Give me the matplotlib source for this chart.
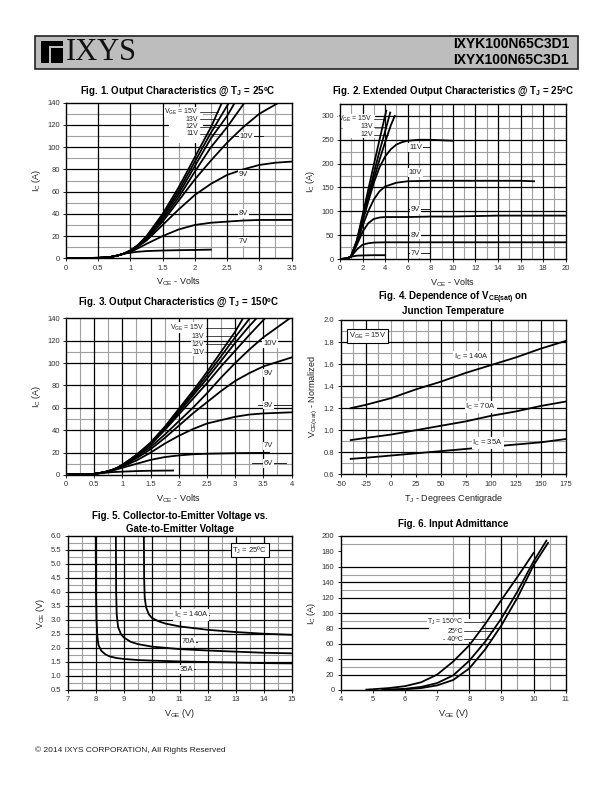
import numpy as np
import matplotlib
matplotlib.use('Agg')
import matplotlib.pyplot as plt
from matplotlib.patches import Rectangle
from matplotlib.ticker import FuncFormatter

plt.rcParams['font.family'] = ['Liberation Sans', 'DejaVu Sans']
plt.rcParams['mathtext.default'] = 'regular'

# ---------------- data ----------------
# Fig. 1  output characteristics @ Tj = 25C
f1_knee_v = [0.0, 0.3, 0.5, 0.6, 0.7, 0.8, 0.9]
f1_knee_i = [0.3, 0.3, 0.4, 0.7, 1.3, 2.5, 4.2]
f1_vge = ['15V', '13V', '12V', '11V', '10V', '9V', '8V', '7V']
f1_vce = [
    [1.0, 1.1, 1.25, 1.5, 1.75, 2.0, 2.25, 2.42],
    [1.0, 1.1, 1.25, 1.5, 1.75, 2.0, 2.25, 2.53],
    [1.0, 1.1, 1.25, 1.5, 1.75, 2.0, 2.25, 2.5, 2.62],
    [1.0, 1.1, 1.25, 1.5, 1.75, 2.0, 2.25, 2.5, 2.77],
    [1.0, 1.1, 1.25, 1.5, 1.75, 2.0, 2.25, 2.5, 2.75, 3.0, 3.3],
    [1.0, 1.1, 1.25, 1.5, 1.75, 2.0, 2.25, 2.5, 2.75, 3.0, 3.25, 3.5],
    [1.0, 1.1, 1.25, 1.5, 1.75, 2.0, 2.25, 2.5, 2.75, 3.0, 3.5],
    [1.0, 1.1, 1.25, 1.5, 1.75, 2.0, 2.25],
]
f1_ic = [
    [7, 11, 20, 40, 64, 91, 118, 140],
    [7, 11, 19, 38, 61, 87, 113, 140],
    [7, 11, 19, 37, 58, 83, 108, 128, 140],
    [7, 11, 18, 35, 55, 78, 100, 118, 140],
    [6.5, 10, 17, 33, 52, 71, 88, 104, 118, 130, 140],
    [6, 10, 16, 30, 44, 57, 67, 75, 80, 84, 86, 87],
    [5.5, 8.5, 13, 20, 26, 30, 32, 33, 34, 34.5, 34.5],
    [5, 5.8, 6.5, 7, 7.3, 7.5, 7.8],
]

# Fig. 2  extended output characteristics @ Tj = 25C
f2_knee_v = [0.0, 0.4, 0.7, 0.9]
f2_knee_i = [0.0, 0.5, 2.0, 4.0]
f2_vge = ['15V', '13V', '12V', '11V', '10V', '9V', '8V', '7V']
f2_vce = [
    [1.0, 1.5, 2.0, 2.5, 3.0, 3.5, 4.1],
    [1.0, 1.5, 2.0, 2.5, 3.0, 3.5, 4.0, 4.45],
    [1.0, 1.5, 2.0, 2.5, 3.0, 3.5, 4.0, 4.5, 4.85],
    [1.0, 1.5, 2.0, 2.5, 3.0, 3.5, 4.0, 4.5, 5.0, 5.5, 6.0, 7.0, 8.0, 9.0, 10.0],
    [1.0, 1.5, 2.0, 2.5, 3.0, 3.5, 4.0, 5.0, 6.0, 8.0, 10.0, 12.0, 14.0, 16.0, 17.2],
    [1.0, 1.5, 2.0, 2.5, 3.0, 3.5, 4.0, 5.0, 6.0, 8.0, 10.0, 12.0, 14.0, 16.0, 18.0, 20.0],
    [1.0, 1.5, 2.0, 2.5, 3.0, 4.0, 6.0, 10.0, 15.0, 20.0],
    [1.0, 1.5, 2.0, 3.0, 4.0],
]
f2_ic = [
    [7, 40, 92, 145, 198, 250, 311],
    [7, 38, 87, 133, 180, 226, 268, 307],
    [7, 37, 83, 127, 168, 208, 245, 280, 300],
    [7, 35, 78, 120, 160, 192, 215, 230, 240, 245, 248, 250, 250, 249, 248],
    [6.5, 33, 70, 100, 125, 142, 152, 160, 163, 164, 164, 164, 164, 164, 163],
    [6, 30, 57, 75, 84, 87, 88, 88, 88, 89, 89, 90, 91, 91, 91, 91],
    [5.5, 20, 30, 33, 34.5, 35, 35, 35, 35, 35],
    [5, 7, 7.5, 8, 8],
]

# Fig. 3  output characteristics @ Tj = 150C
f3_knee_v = [0.0, 0.25, 0.5]
f3_knee_i = [0.5, 0.7, 1.0]
f3_vge = ['15V', '13V', '12V', '11V', '10V', '9V', '8V', '7V', '6V']
f3_vce = [
    [0.6, 0.7, 0.8, 0.9, 1.0, 1.25, 1.5, 1.75, 2.0, 2.25, 2.5, 2.75, 3.0, 3.14],
    [0.6, 0.7, 0.8, 0.9, 1.0, 1.25, 1.5, 1.75, 2.0, 2.25, 2.5, 2.75, 3.0, 3.26],
    [0.6, 0.7, 0.8, 0.9, 1.0, 1.25, 1.5, 1.75, 2.0, 2.25, 2.5, 2.75, 3.0, 3.25, 3.38],
    [0.6, 0.7, 0.8, 0.9, 1.0, 1.25, 1.5, 1.75, 2.0, 2.25, 2.5, 2.75, 3.0, 3.25, 3.53],
    [0.6, 0.7, 0.8, 0.9, 1.0, 1.25, 1.5, 1.75, 2.0, 2.25, 2.5, 2.75, 3.0, 3.25, 3.5, 3.75, 3.97],
    [0.6, 0.7, 0.8, 0.9, 1.0, 1.25, 1.5, 1.75, 2.0, 2.25, 2.5, 2.75, 3.0, 3.25, 3.5, 3.75, 4.0],
    [0.6, 0.7, 0.8, 0.9, 1.0, 1.25, 1.5, 1.75, 2.0, 2.25, 2.5, 2.75, 3.0, 3.25, 3.5, 4.0],
    [0.6, 0.7, 0.8, 0.9, 1.0, 1.25, 1.5, 1.75, 2.0, 2.25, 2.5, 3.0, 3.6],
    [0.6, 0.8, 1.0, 1.25, 1.5, 1.9],
]
f3_ic = [
    [1.8, 2.8, 4.2, 6.2, 9, 18, 29, 43, 59, 75, 92, 110, 128, 140],
    [1.8, 2.8, 4.2, 6.2, 9, 18, 28, 42, 57, 73, 89, 106, 123, 140],
    [1.8, 2.8, 4.2, 6.1, 9, 17, 28, 41, 56, 71, 86, 102, 118, 133, 140],
    [1.8, 2.8, 4.1, 6.0, 8.5, 17, 27, 40, 54, 68, 82, 97, 111, 125, 140],
    [1.8, 2.8, 4.0, 5.8, 8, 16, 25, 36, 48, 60, 73, 87, 100, 112, 123, 132, 140],
    [1.8, 2.8, 4.0, 5.8, 8, 15, 23, 33, 44, 55, 65, 75, 84, 91, 97, 101, 105],
    [1.7, 2.7, 3.9, 5.5, 7.5, 13, 20, 28, 35, 41, 46, 49, 52, 54, 55, 56],
    [1.6, 2.5, 3.6, 5.0, 6.5, 10, 13.5, 16, 17.5, 18.5, 19, 19.5, 19.8],
    [1.5, 2.5, 3.0, 3.5, 3.8, 4.0],
]

# Fig. 4  VCE(sat) normalized vs junction temperature
f4_tj = [-40, -25, 0, 25, 50, 75, 100, 125, 150, 175]
f4_ic140 = [1.20, 1.23, 1.29, 1.37, 1.44, 1.52, 1.59, 1.66, 1.74, 1.81]
f4_ic70 = [0.91, 0.93, 0.96, 1.00, 1.04, 1.08, 1.13, 1.17, 1.22, 1.26]
f4_ic35 = [0.74, 0.75, 0.77, 0.79, 0.81, 0.83, 0.85, 0.87, 0.89, 0.92]

# Fig. 5  VCE vs VGE @ Tj = 25C
f5_vge140 = [9.72, 9.73, 9.75, 9.8, 9.9, 10.0, 10.25, 10.5, 11.0, 12.0, 13.0, 14.0, 15.0]
f5_vce140 = [6.0, 4.5, 3.8, 3.45, 3.2, 3.08, 2.95, 2.87, 2.77, 2.65, 2.57, 2.51, 2.47]
f5_vge70 = [8.72, 8.73, 8.75, 8.8, 8.9, 9.0, 9.25, 9.5, 10.0, 11.0, 12.0, 13.0, 14.0, 15.0]
f5_vce70 = [6.0, 4.0, 3.2, 2.75, 2.5, 2.38, 2.22, 2.14, 2.05, 1.96, 1.91, 1.87, 1.83, 1.81]
f5_vge35 = [8.0, 8.01, 8.03, 8.06, 8.1, 8.2, 8.35, 8.5, 8.75, 9.0, 9.5, 10.0, 11.0, 12.0, 13.0, 14.0, 15.0]
f5_vce35 = [6.0, 4.0, 3.0, 2.4, 2.1, 1.9, 1.77, 1.7, 1.64, 1.61, 1.57, 1.55, 1.52, 1.5, 1.48, 1.46, 1.45]

# Fig. 6  input admittance
f6_vge150 = [4.8, 5.0, 5.5, 6.0, 6.5, 7.0, 7.5, 8.0, 8.5, 9.0, 9.5, 10.0]
f6_ic150 = [0.5, 1, 2.5, 5, 10, 20, 37, 58, 86, 117, 147, 178]
f6_vge25 = [5.3, 5.5, 6.0, 6.5, 7.0, 7.5, 8.0, 8.5, 9.0, 9.5, 10.0, 10.4]
f6_ic25 = [0.3, 0.5, 1.5, 4, 9, 19, 38, 63, 93, 128, 167, 194]
f6_vgem40 = [5.5, 6.0, 6.5, 7.0, 7.5, 8.0, 8.5, 9.0, 9.5, 10.0, 10.45]
f6_icm40 = [0.3, 1, 2.5, 6, 13, 28, 53, 84, 120, 162, 191]

# ---------------- drawing ----------------
W, H = 612, 792
fig = plt.figure(figsize=(W / 100, H / 100), dpi=100)


def box(x0, y0, x1, y1):
    # pixel box (top-left origin) -> axes rect
    return [x0 / W, 1 - y1 / H, (x1 - x0) / W, (y1 - y0) / H]


def ftext(x, y, s, **kw):
    fig.text(x / W, 1 - y / H, s, **kw)


def grid(ax, xb, xg, yb, yg):
    for v in xg:
        ax.axvline(v, color='#a0a0a0', lw=0.8, zorder=1.1)
    for v in yg:
        ax.axhline(v, color='#a0a0a0', lw=0.8, zorder=1.1)
    for v in xb:
        ax.axvline(v, color='black', lw=0.9, zorder=1.2)
    for v in yb:
        ax.axhline(v, color='black', lw=0.9, zorder=1.2)


def style(ax, xlim, ylim, xt, yt, xlabel, ylabel, fmt=None):
    ax.set_xlim(*xlim)
    ax.set_ylim(*ylim)
    ax.set_xticks(xt)
    ax.set_yticks(yt)
    ax.xaxis.set_major_formatter(FuncFormatter(lambda v, p: '%g' % v))
    if fmt:
        ax.yaxis.set_major_formatter(FuncFormatter(lambda v, p: fmt % v))
    else:
        ax.yaxis.set_major_formatter(FuncFormatter(lambda v, p: '%g' % v))
    ax.tick_params(labelsize=5.5, length=2.5, width=0.6, pad=2, labelcolor='#333333')
    ax.set_xlabel(xlabel, fontsize=6.5, color='#222222', labelpad=3)
    ax.set_ylabel(ylabel, fontsize=6.5, color='#222222', labelpad=3)
    for s in ax.spines.values():
        s.set_linewidth(1.0)
        s.set_zorder(5)


def tag(ax, x, y, s, ha='center', dash=None, edge='none', size=5.5, pad=0.6):
    ax.text(x, y, s, ha=ha, va='center', fontsize=size, color='#222222', zorder=4,
            bbox=dict(fc='white', ec=edge, lw=0.8, pad=1.2 if edge != 'none' else pad))
    if dash:
        ax.plot(dash, [y, y], color='black', lw=0.6, zorder=3.5)


def leaders(ax, xr, ys, texts, vces, ics, gap):
    for s, y, v, i in zip(texts, ys, vces, ics):
        tag(ax, xr, y, s, ha='right', size=5.0, pad=0.1)
        xc = np.interp(y, i, v)
        ax.plot([xr + gap, xc], [y, y], color='black', lw=0.5, zorder=3.5)


LW = 1.3

# header
fig.add_artist(Rectangle((35 / W, 1 - 69 / H), 543 / W, 33 / H, transform=fig.transFigure,
                         fc='#bdbdbd', ec='#222222', lw=1.2))
fig.add_artist(Rectangle((41 / W, 1 - 63 / H), 22 / W, 22 / H, transform=fig.transFigure,
                         fc='black', ec='none'))
fig.add_artist(Rectangle((48.5 / W, 1 - 63 / H), 2 / W, 17 / H, transform=fig.transFigure,
                         fc='#bdbdbd', ec='none'))
fig.add_artist(Rectangle((48.5 / W, 1 - 48 / H), 14.5 / W, 2 / H, transform=fig.transFigure,
                         fc='#bdbdbd', ec='none'))
ftext(66, 52, 'IXYS', fontsize=22, family=['Liberation Serif', 'DejaVu Serif'],
      ha='left', va='center', color='#111111')
ftext(569, 44, 'IXYK100N65C3D1', fontsize=10, fontweight='bold', ha='right', va='center')
ftext(569, 60, 'IXYX100N65C3D1', fontsize=10, fontweight='bold', ha='right', va='center')

tfont = dict(fontsize=7, fontweight='bold', ha='center', va='center',
             family=['Liberation Sans Narrow', 'Liberation Sans'])

# ---- Fig. 1
ax = fig.add_axes(box(66, 102.7, 291.5, 258.3))
grid(ax, [0.5, 1, 1.5, 2, 2.5, 3], [1.75, 2.25, 2.75, 3.25],
     [20, 40, 60, 80, 100, 120], [10, 30, 50, 70, 90, 110, 130])
ax.add_patch(Rectangle((1.6, 104), 0.52, 32, fc='white', ec='none', zorder=1.5))
for v, i in zip(f1_vce, f1_ic):
    ax.plot(f1_knee_v + v, f1_knee_i + i, color='black', lw=LW, zorder=3)
style(ax, (0, 3.5), (0, 140), np.arange(0, 3.51, 0.5), np.arange(0, 141, 20),
      'V$_{CE}$ - Volts', 'I$_C$ (A)')
leaders(ax, 2.05, [131.5, 125, 118.5, 112], ['V$_{GE}$ = ' + f1_vge[0]] + f1_vge[1:4],
        f1_vce[:4], f1_ic[:4], 0.03)
tag(ax, 2.8, 110, f1_vge[4], dash=(2.62, 3.05))
tag(ax, 2.75, 75.5, f1_vge[5])
tag(ax, 2.75, 40.5, f1_vge[6])
tag(ax, 2.75, 15, f1_vge[7])
ftext(178, 91, 'Fig. 1. Output Characteristics @ T$_J$ = 25ºC', **tfont)

# ---- Fig. 2
ax = fig.add_axes(box(340, 104, 565.7, 259))
grid(ax, np.arange(2, 19, 2), np.arange(1, 20, 2),
     np.arange(50, 301, 50), np.arange(25, 300, 50))
ax.add_patch(Rectangle((0.3, 253), 2.8, 49, fc='white', ec='none', zorder=1.5))
for v, i in zip(f2_vce, f2_ic):
    ax.plot(f2_knee_v + v, f2_knee_i + i, color='black', lw=LW, zorder=3)
style(ax, (0, 20), (0, 325), np.arange(0, 21, 2), np.arange(0, 301, 50),
      'V$_{CE}$ - Volts', 'I$_C$ (A)')
leaders(ax, 2.9, [293, 277, 261], ['V$_{GE}$ = ' + f2_vge[0]] + f2_vge[1:3],
        f2_vce[:3], f2_ic[:3], 0.15)
tag(ax, 6.7, 234, f2_vge[3], dash=(6.0, 8.0))
tag(ax, 6.7, 181, f2_vge[4])
tag(ax, 6.7, 104, f2_vge[5], dash=(6.0, 8.0))
tag(ax, 6.7, 50, f2_vge[6], dash=(6.0, 8.0))
tag(ax, 6.7, 12, f2_vge[7], dash=(6.0, 8.0))
ftext(453, 91, 'Fig. 2. Extended Output Characteristics @ T$_J$ = 25ºC', **tfont)

# ---- Fig. 3
ax = fig.add_axes(box(66, 318.3, 291.5, 475))
grid(ax, [0.5, 1, 1.5, 2, 2.5, 3, 3.5], np.arange(0.25, 4, 0.5),
     [20, 40, 60, 80, 100, 120], [10, 50, 110])
for v, i in zip(f3_vce, f3_ic):
    ax.plot(f3_knee_v + v, f3_knee_i + i, color='black', lw=LW, zorder=3)
style(ax, (0, 4), (0, 140), np.arange(0, 4.01, 0.5), np.arange(0, 141, 20),
      'V$_{CE}$ - Volts', 'I$_C$ (A)')
leaders(ax, 2.45, [131.6, 124, 116.8, 109.7], ['V$_{GE}$ = ' + f3_vge[0]] + f3_vge[1:4],
        f3_vce[:4], f3_ic[:4], 0.04)
tag(ax, 3.62, 117.6, f3_vge[4])
tag(ax, 3.59, 91, f3_vge[5])
tag(ax, 3.59, 62.5, f3_vge[6], dash=(3.4, 4.0))
tag(ax, 3.59, 26, f3_vge[7])
tag(ax, 3.59, 10.4, f3_vge[8], dash=(3.3, 3.9))
ftext(178, 302, 'Fig. 3. Output Characteristics @ T$_J$ = 150ºC', **tfont)

# ---- Fig. 4
ax = fig.add_axes(box(340.7, 320, 565.7, 474.3))
xg4 = [v for v in np.arange(-37.5, 175, 12.5) if v not in (-25, 50, 100, 150)]
grid(ax, [-25, 50, 100, 150], xg4, np.arange(0.8, 1.81, 0.2), np.arange(0.7, 1.91, 0.2))
ax.plot(f4_tj, f4_ic140, color='black', lw=LW, zorder=3)
ax.plot(f4_tj, f4_ic70, color='black', lw=LW, zorder=3)
ax.plot(f4_tj, f4_ic35, color='black', lw=LW, zorder=3)
style(ax, (-50, 175), (0.6, 2.0), np.arange(-50, 176, 25), np.arange(0.6, 2.01, 0.2),
      'T$_J$ - Degrees Centigrade', 'V$_{CE(sat)}$ - Normalized', fmt='%.1f')
tag(ax, -23, 1.857, 'V$_{GE}$ = 15V', edge='black')
tag(ax, 81, 1.667, 'I$_C$ = 140A')
tag(ax, 90, 1.213, 'I$_C$ = 70A')
tag(ax, 97, 0.887, 'I$_C$ = 35A')
ftext(453, 298, 'Fig. 4. Dependence of V$_{CE(sat)}$ on', **tfont)
ftext(453, 311, 'Junction Temperature', **tfont)

# ---- Fig. 5
ax = fig.add_axes(box(67.7, 536, 291.7, 690))
grid(ax, np.arange(8, 15, 1), np.arange(7.5, 15, 1),
     np.arange(1.0, 5.6, 0.5), np.arange(0.75, 5.9, 0.5))
ax.plot(f5_vge140, f5_vce140, color='black', lw=LW, zorder=3)
ax.plot(f5_vge70, f5_vce70, color='black', lw=LW, zorder=3)
ax.plot(f5_vge35, f5_vce35, color='black', lw=LW, zorder=3)
style(ax, (7, 15), (0.5, 6.0), np.arange(7, 15.1, 1), np.arange(0.5, 6.01, 0.5),
      'V$_{GE}$ (V)', 'V$_{CE}$ (V)', fmt='%.1f')
tag(ax, 13.5, 5.5, 'T$_J$ = 25ºC', edge='black')
tag(ax, 11.4, 3.18, 'I$_C$ = 140A', dash=(11.4, 12.05))
tag(ax, 11.3, 2.23, '70A', dash=(11.0, 11.6))
tag(ax, 11.25, 1.24, '35A', dash=(10.95, 11.55))
ftext(180, 516, 'Fig. 5. Collector-to-Emitter Voltage vs.', **tfont)
ftext(180, 529, 'Gate-to-Emitter Voltage', **tfont)

# ---- Fig. 6
ax = fig.add_axes(box(340.7, 536, 565.7, 690))
grid(ax, [8, 9, 10], [7.5, 8.5, 9.5, 10.5],
     [20, 40, 60, 80, 100, 120, 140, 160], [30, 90, 130, 150, 190])
ax.add_patch(Rectangle((6.75, 62), 1.65, 30, fc='white', ec='none', zorder=1.5))
ax.plot(f6_vge150, f6_ic150, color='black', lw=LW, zorder=3)
ax.plot(f6_vge25, f6_ic25, color='black', lw=LW, zorder=3)
ax.plot(f6_vgem40, f6_icm40, color='black', lw=LW, zorder=3)
style(ax, (4, 11), (0, 200), np.arange(4, 11.1, 1), np.arange(0, 201, 20),
      'V$_{GE}$ (V)', 'I$_C$ (A)')
leaders(ax, 7.8, [88, 76.6, 66], ['T$_J$ = 150ºC', '25ºC', '- 40ºC'],
        [f6_vge150, f6_vge25, f6_vgem40], [f6_ic150, f6_ic25, f6_icm40], 0.05)
ftext(453, 524, 'Fig. 6. Input Admittance', **tfont)

# footer
ftext(35, 750, '© 2014 IXYS CORPORATION, All Rights Reserved', fontsize=6,
      ha='left', va='center', color='#222222')

fig.savefig('out.png', dpi=100)
